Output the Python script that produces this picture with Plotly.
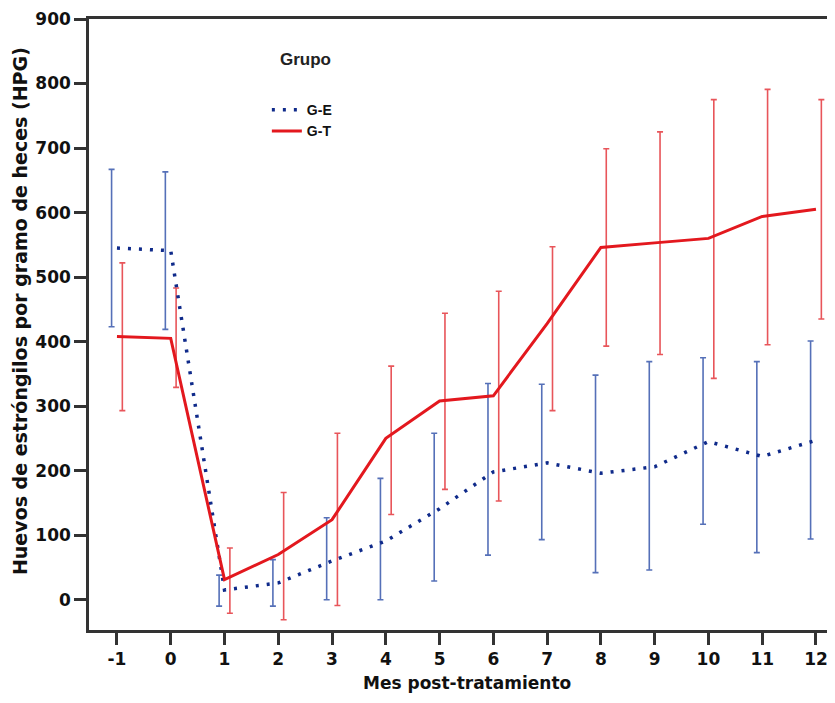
import plotly.graph_objects as go

months = [-1, 0, 1, 2, 3, 4, 5, 6, 7, 8, 9, 10, 11, 12]
tick_labels = ["-1", "0", "1", "2", "3", "4", "5", "6", "7", "8", "9", "10", "11", "12"]
y_ticks = [0, 100, 200, 300, 400, 500, 600, 700, 800, 900]
y_tick_labels = ["0", "100", "200", "300", "400", "500", "600", "700", "800", "900"]

ge_mean = [545, 541, 15, 26, 60, 91, 141, 198, 212, 196, 206, 245, 222, 247]
ge_upper = [667, 663, 38, 62, 127, 188, 258, 335, 334, 348, 369, 375, 369, 401]
ge_lower = [423, 419, -10, -10, 0, 0, 29, 69, 93, 42, 46, 117, 73, 94]

gt_mean = [408, 405, 31, 70, 124, 250, 308, 316, 428, 546, 553, 560, 594, 605]
gt_upper = [522, 483, 80, 166, 258, 362, 444, 478, 547, 699, 725, 775, 791, 775]
gt_lower = [293, 329, -21, -31, -9, 132, 171, 153, 293, 393, 380, 343, 395, 435]

blue_line = "#0f2a8a"
blue_err = "#5570b8"
red_line = "#e3181e"
red_err = "#e8555a"

fig = go.Figure()

fig.add_trace(go.Scatter(
    x=[m - 0.1 for m in months], y=ge_mean, mode="markers",
    marker=dict(size=1, opacity=0), showlegend=False, hoverinfo="skip",
    error_y=dict(type="data", symmetric=False,
                 array=[u - m for u, m in zip(ge_upper, ge_mean)],
                 arrayminus=[m - l for m, l in zip(ge_mean, ge_lower)],
                 color=blue_err, thickness=1.6, width=3)))
fig.add_trace(go.Scatter(
    x=[m + 0.1 for m in months], y=gt_mean, mode="markers",
    marker=dict(size=1, opacity=0), showlegend=False, hoverinfo="skip",
    error_y=dict(type="data", symmetric=False,
                 array=[u - m for u, m in zip(gt_upper, gt_mean)],
                 arrayminus=[m - l for m, l in zip(gt_mean, gt_lower)],
                 color=red_err, thickness=1.6, width=3)))

fig.add_trace(go.Scatter(
    x=months, y=ge_mean, mode="lines", name="G-E",
    line=dict(color=blue_line, width=3.5, dash="3px,8px")))
fig.add_trace(go.Scatter(
    x=months, y=gt_mean, mode="lines", name="G-T",
    line=dict(color=red_line, width=3)))

tick_font = "DejaVu Sans, sans-serif"
leg_font = "Liberation Sans, Arial, sans-serif"

fig.update_layout(
    width=819, height=687,
    margin=dict(l=81, r=0, t=11, b=65),
    paper_bgcolor="white", plot_bgcolor="white",
    font=dict(family=tick_font, color="#111"),
    showlegend=True,
    legend=dict(x=0.241, y=0.877, xanchor="left", yanchor="top",
                bgcolor="rgba(0,0,0,0)", tracegroupgap=0,
                font=dict(size=14, family=leg_font, color="#111", weight="bold"),
                itemwidth=30),
    annotations=[
        dict(text="<b>Grupo</b>", x=0.294, y=0.933, xref="paper", yref="paper",
             xanchor="center", yanchor="middle", showarrow=False,
             font=dict(size=17, family=leg_font, color="#222")),
        dict(text="<b>Mes post-tratamiento</b>", x=0.512, y=-0.086, xref="paper", yref="paper",
             xanchor="center", yanchor="middle", showarrow=False,
             font=dict(size=17, family=tick_font, color="#111")),
        dict(text="<b>Huevos de estróngilos por gramo de heces (HPG)</b>",
             x=(20 - 89) / 738, y=0.522, xref="paper", yref="paper", textangle=-90,
             xanchor="center", yanchor="middle", showarrow=False,
             font=dict(size=19, family=tick_font, color="#111")),
    ],
    xaxis=dict(range=[-1.52, 12.205], tickmode="array", tickvals=months, ticktext=tick_labels,
               showline=True, linecolor="#333", linewidth=2.5, mirror=True,
               ticks="outside", ticklen=12, tickwidth=2.5, tickcolor="#333",
               showgrid=False, zeroline=False, automargin=False,
               ticklabeloverflow="allow",
               tickfont=dict(size=17, family=tick_font, color="#111", weight="bold")),
    yaxis=dict(range=[-47, 900], tickmode="array", tickvals=y_ticks, ticktext=y_tick_labels,
               showline=True, linecolor="#333", linewidth=2.5,
               ticks="outside", ticklen=12, tickwidth=2.5, tickcolor="#333",
               showgrid=False, zeroline=False, automargin=False,
               tickfont=dict(size=17, family=tick_font, color="#111", weight="bold")),
)

fig.write_html("out.html")
